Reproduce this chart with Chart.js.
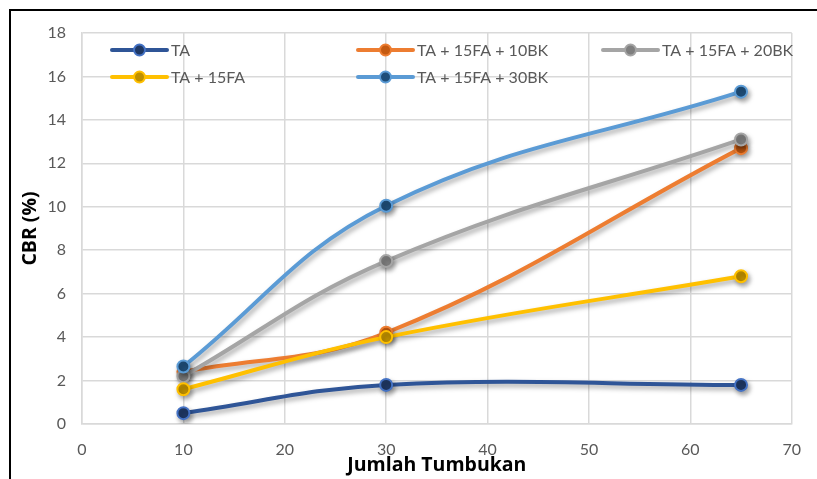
<!DOCTYPE html>
<html>
<head>
<meta charset="utf-8">
<script src="https://cdn.jsdelivr.net/npm/chart.js@4"></script>
<style>
html,body{margin:0;padding:0;background:#fff;}
#wrap{position:relative;width:817px;height:479px;}
</style>
</head>
<body>
<div id="wrap"><canvas id="c" width="817" height="479"></canvas></div>
<script>
const xValues = [10, 30, 65];
const seriesLabels = ['TA', 'TA + 15FA + 10BK', 'TA + 15FA + 20BK', 'TA + 15FA', 'TA + 15FA + 30BK'];
const taValues = [0.5, 1.8, 1.8];
const bk10Values = [2.4, 4.2, 12.7];
const bk20Values = [2.2, 7.5, 13.1];
const fa15Values = [1.6, 4.0, 6.8];
const bk30Values = [2.65, 10.05, 15.3];
const yTicks = [0, 2, 4, 6, 8, 10, 12, 14, 16, 18];
const xTicks = [0, 10, 20, 30, 40, 50, 60, 70];

const lineColors = ['#2F5597', '#ED7D31', '#A5A5A5', '#FFC000', '#5B9BD5'];
const fillColors = ['#1F3864', '#C55A11', '#7F7F7F', '#BF9000', '#1F4E79'];
const borderColors = ['#4472C4', '#ED7D31', '#A5A5A5', '#FFC000', '#5B9BD5'];
const allValues = [taValues, bk10Values, bk20Values, fa15Values, bk30Values];

const datasets = allValues.map((vals, i) => ({
  label: seriesLabels[i],
  data: vals.map((v, j) => ({x: xValues[j], y: v})),
  borderColor: lineColors[i],
  borderWidth: 4,
  pointRadius: 6,
  pointHoverRadius: 6,
  pointBackgroundColor: fillColors[i],
  pointBorderColor: borderColors[i],
  pointBorderWidth: 2,
  tension: 0.4,
  fill: false,
  order: allValues.length - i
}));

const FONT = 'Lato';
const TITLE_FONT = 'Open Sans';

const frame = {
  id: 'frame',
  afterDraw(chart) {
    const ctx = chart.ctx;
    ctx.save();
    ctx.strokeStyle = '#000';
    ctx.lineWidth = 2;
    ctx.beginPath();
    ctx.moveTo(10, 479);
    ctx.lineTo(10, 10);
    ctx.lineTo(817, 10);
    ctx.stroke();
    ctx.restore();
  }
};

const shadow = {
  id: 'shadow',
  beforeDatasetDraw(chart) {
    const ctx = chart.ctx;
    ctx.save();
    ctx.shadowColor = 'rgba(0,0,0,0.35)';
    ctx.shadowBlur = 5;
    ctx.shadowOffsetX = 2;
    ctx.shadowOffsetY = 3;
  },
  afterDatasetDraw(chart) {
    chart.ctx.restore();
  }
};

const legendPlugin = {
  id: 'customLegend',
  afterDatasetsDraw(chart) {
    const ctx = chart.ctx;
    const cols = [112, 358, 603];
    const rows = [50, 77];
    chart.data.datasets.forEach((ds, i) => {
      const x = cols[i % 3], y = rows[Math.floor(i / 3)];
      ctx.save();
      ctx.strokeStyle = ds.borderColor;
      ctx.lineWidth = 4;
      ctx.lineCap = 'round';
      ctx.beginPath();
      ctx.moveTo(x, y);
      ctx.lineTo(x + 55, y);
      ctx.stroke();
      ctx.beginPath();
      ctx.arc(x + 27.5, y, 5.5, 0, Math.PI * 2);
      ctx.fillStyle = ds.pointBackgroundColor;
      ctx.fill();
      ctx.lineWidth = 2;
      ctx.strokeStyle = ds.pointBorderColor;
      ctx.stroke();
      ctx.fillStyle = '#595959';
      ctx.font = '16px ' + FONT;
      ctx.textBaseline = 'middle';
      ctx.textAlign = 'left';
      ctx.fillText(ds.label, x + 59, y + 1);
      ctx.restore();
    });
  }
};

new Chart(document.getElementById('c'), {
  type: 'line',
  data: { datasets },
  options: {
    responsive: false,
    animation: false,
    events: [],
    layout: { padding: { top: 33, right: 24, left: 0, bottom: 0 } },
    plugins: { legend: { display: false }, tooltip: { enabled: false } },
    scales: {
      x: {
        type: 'linear',
        min: 0, max: 70,
        afterBuildTicks(s) { s.ticks = xTicks.map(v => ({value: v})); },
        afterFit(s) { s.height = 55; },
        grid: { color: '#D9D9D9', lineWidth: 1.5, drawTicks: false },
        border: { color: '#D9D9D9', width: 1.5 },
        ticks: { padding: 16, color: '#595959', font: { family: FONT, size: 16 } },
        title: { display: true, text: 'Jumlah Tumbukan', color: '#000', font: { family: TITLE_FONT, size: 19.5, weight: 'bold' }, padding: { top: 0, bottom: 2 } }
      },
      y: {
        min: 0, max: 18,
        afterBuildTicks(s) { s.ticks = yTicks.map(v => ({value: v})); },
        afterFit(s) { s.width = 82; },
        grid: { color: '#D9D9D9', lineWidth: 1.5, drawTicks: false },
        border: { color: '#D9D9D9', width: 1.5 },
        ticks: { padding: 16, color: '#595959', font: { family: FONT, size: 16 } },
        title: { display: true, text: 'CBR (%)', color: '#000', font: { family: TITLE_FONT, size: 19.5, weight: 'bold' }, padding: { top: 19, bottom: 0 } }
      }
    }
  },
  plugins: [shadow, legendPlugin, frame]
});
</script>
</body>
</html>
